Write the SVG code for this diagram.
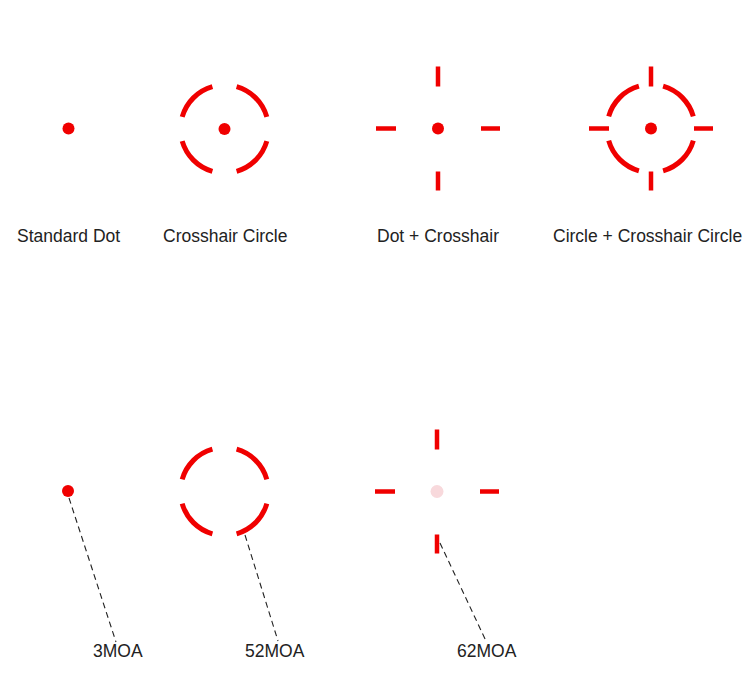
<svg xmlns="http://www.w3.org/2000/svg" xmlns:xlink="http://www.w3.org/1999/xlink" width="750" height="681" viewBox="0 0 750 681">
<style>
.arc{fill:none;stroke:#f00000;stroke-width:5;stroke-linecap:butt}
.tick{fill:none;stroke:#f00000;stroke-width:4.5;stroke-linecap:butt}
.dot{fill:#f00000}
.pale{fill:#f8d9dc}
.lbl{font-family:"Liberation Sans",Arial,sans-serif;font-size:17.5px;fill:#222}
.lead{fill:none;stroke:#222;stroke-width:1.1;stroke-dasharray:6 4}
</style>
<defs>
<path id="ring" class="arc" d="M12.1,-42.3 A44,44 0 0 1 42.3,-12.1 M42.3,12.1 A44,44 0 0 1 12.1,42.3 M-12.1,42.3 A44,44 0 0 1 -42.3,12.1 M-42.3,-12.1 A44,44 0 0 1 -12.1,-42.3"/>
<path id="cross" class="tick" d="M0,-62 V-42 M0,43 V62 M-62,0 H-42 M43,0 H62"/>
</defs>
<rect width="750" height="681" fill="#fff"/>
<g id="standard-dot">
<circle class="dot" cx="68.5" cy="128.5" r="6"/>
<text class="lbl" x="17" y="242">Standard Dot</text>
</g>
<g id="crosshair-circle">
<use xlink:href="#ring" x="224.5" y="129"/>
<circle class="dot" cx="224.5" cy="129" r="6"/>
<text class="lbl" x="163" y="242">Crosshair Circle</text>
</g>
<g id="dot-crosshair">
<use xlink:href="#cross" x="438" y="128.5"/>
<circle class="dot" cx="438" cy="128.5" r="6"/>
<text class="lbl" x="377" y="242">Dot + Crosshair</text>
</g>
<g id="circle-crosshair-circle">
<use xlink:href="#ring" x="651" y="128.5"/>
<use xlink:href="#cross" x="651" y="128.5"/>
<circle class="dot" cx="651" cy="128.5" r="6"/>
<text class="lbl" x="553" y="242">Circle + Crosshair Circle</text>
</g>
<g id="moa3">
<circle class="dot" cx="68" cy="491" r="6"/>
<text class="lbl" x="93" y="657">3MOA</text>
</g>
<g id="moa52">
<use xlink:href="#ring" x="224.5" y="491.5"/>
<text class="lbl" x="245" y="657">52MOA</text>
</g>
<g id="moa62">
<use xlink:href="#cross" x="437" y="491.5"/>
<circle class="pale" cx="437" cy="491.5" r="6.5"/>
<text class="lbl" x="457" y="657">62MOA</text>
</g>
<g id="connectors">
<path class="lead" d="M69,498 L116,642"/>
<path class="lead" d="M245,535 L278,641"/>
<path class="lead" d="M440,543 L486,641"/>
</g>
</svg>
